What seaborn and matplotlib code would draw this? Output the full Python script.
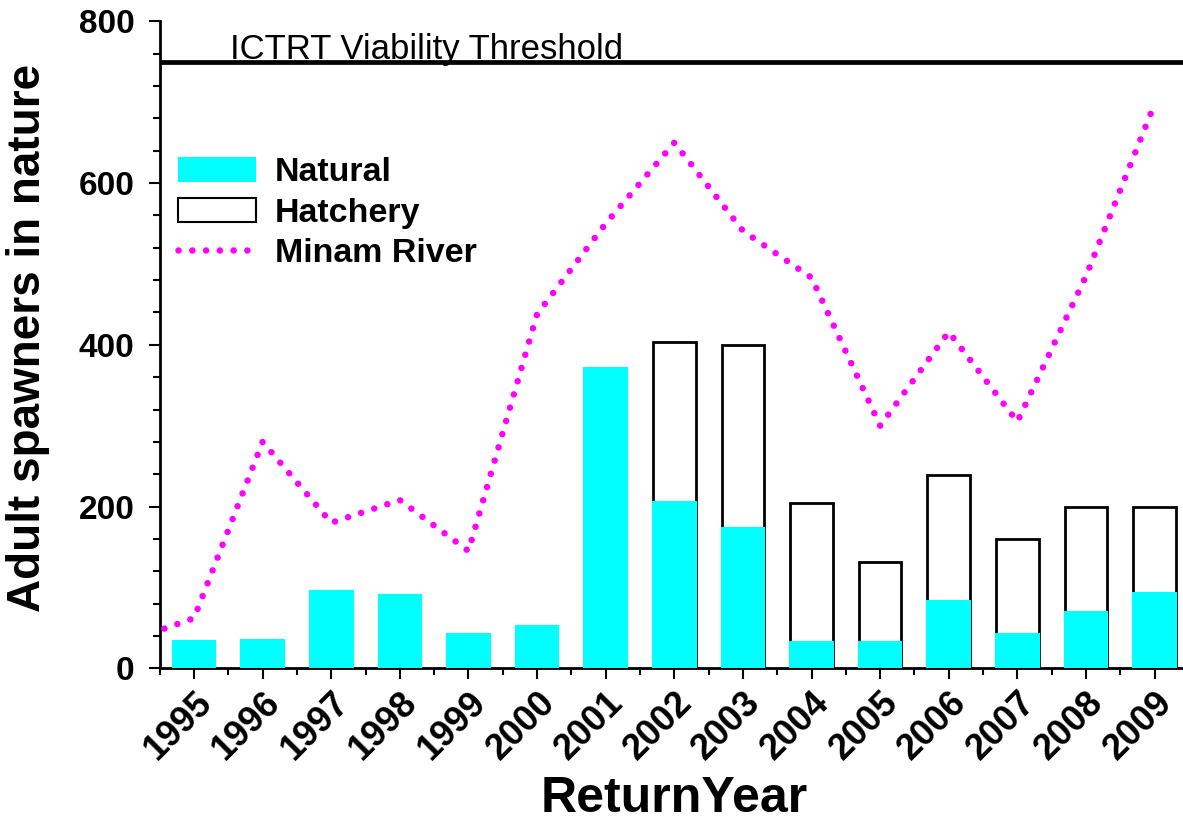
import matplotlib
matplotlib.use('Agg')
import matplotlib.pyplot as plt
import matplotlib.transforms as mtransforms
import seaborn as sns
import pandas as pd
from matplotlib.patches import Patch
from matplotlib.lines import Line2D
from matplotlib.ticker import MultipleLocator

# values
years = [1995, 1996, 1997, 1998, 1999, 2000, 2001, 2002, 2003, 2004, 2005, 2006, 2007, 2008, 2009]
natural = [34, 35, 96, 91, 43, 52, 371, 206, 173, 33, 32, 83, 42, 70, 93]
hatchery_years = [2002, 2003, 2004, 2005, 2006, 2007, 2008, 2009]
hatchery = [197, 227, 171, 99, 156, 118, 129, 106]
minam_years = [1994, 1995, 1996, 1997, 1998, 1999, 2000, 2001, 2002, 2003, 2004, 2005, 2006, 2007, 2008, 2009]
minam = [32, 62, 280, 180, 208, 145, 438, 550, 650, 541, 483, 300, 416, 305, 485, 698]
threshold = 750

sns.set_theme(style='ticks')
plt.rcParams['font.family'] = ['Liberation Sans', 'DejaVu Sans']
plt.rcParams.update({'text.color': 'black', 'axes.labelcolor': 'black',
                     'xtick.color': 'black', 'ytick.color': 'black'})

df = pd.DataFrame({'Year': years, 'Natural': natural})
hat = pd.DataFrame({'Year': hatchery_years, 'Hatchery': hatchery}).merge(df, on='Year')
hat['Total'] = hat['Natural'] + hat['Hatchery']

fig = plt.figure(figsize=(11.83, 8.23), dpi=100)
ax = fig.add_axes([0.135, 0.188, 0.870, 0.786])

# hatchery drawn as full-height box, natural painted over the lower part
sns.barplot(data=hat, x='Year', y='Total', native_scale=True, width=0.62, color='white',
            saturation=1, edgecolor='black', linewidth=2, errorbar=None, ax=ax, zorder=2)
sns.barplot(data=df, x='Year', y='Natural', native_scale=True, width=0.62, color='#00FFFF',
            saturation=1, edgecolor='#00FFFF', linewidth=1.5, errorbar=None, ax=ax, zorder=3)
sns.lineplot(x=minam_years, y=minam, color='#FF00FF', lw=4.7, linestyle=(0, (0.01, 2.1)),
             dash_capstyle='round', legend=False, ax=ax, zorder=4)

ax.axhline(threshold, color='black', lw=3.4, zorder=5)
ax.text(1995.52, threshold + 3, 'ICTRT Viability Threshold', fontsize=25, va='baseline',
        ha='left', color='black', zorder=6)

ax.set_xlim(1994.5, 2009.5)
ax.set_ylim(0, 800)
ax.set_xticks(years)
ax.set_xticklabels([str(y) for y in years], rotation=45, ha='right', va='top',
                   rotation_mode='anchor', fontweight='bold', fontsize=26)
shift = mtransforms.ScaledTranslation(-0.11, 0, fig.dpi_scale_trans)
for lbl in ax.get_xticklabels():
    lbl.set_transform(lbl.get_transform() + shift)
ax.xaxis.set_minor_locator(MultipleLocator(1, offset=0.5))
ax.set_yticks([0, 200, 400, 600, 800])
ax.yaxis.set_minor_locator(MultipleLocator(40))
for lbl in ax.get_yticklabels():
    lbl.set_fontweight('bold')

ax.tick_params(axis='both', which='major', direction='out', length=8, width=1.5, color='black')
ax.tick_params(axis='y', which='major', pad=10, labelsize=24)
ax.tick_params(axis='x', which='major', pad=4, labelsize=26)
ax.tick_params(axis='both', which='minor', direction='out', length=5, width=1.5, color='black')

sns.despine(ax=ax)
for s in ['left', 'bottom']:
    ax.spines[s].set_linewidth(2)
    ax.spines[s].set_color('black')

ax.set_ylabel('Adult spawners in nature', fontsize=33, fontweight='bold')
ax.yaxis.set_label_coords(-0.107, 0.51)
ax.set_xlabel('ReturnYear', fontsize=36, fontweight='bold')
ax.xaxis.set_label_coords(0.5, -0.166)

handles = [Patch(facecolor='#00FFFF', edgecolor='none'),
           Patch(facecolor='white', edgecolor='black', linewidth=1.5),
           Line2D([], [], color='#FF00FF', lw=4.7, linestyle=(0, (0.01, 2.1)), dash_capstyle='round')]
leg = ax.legend(handles, ['Natural', 'Hatchery', 'Minam River'], loc='upper left',
                bbox_to_anchor=(0.018, 0.79), frameon=False, borderpad=0, borderaxespad=0,
                prop={'weight': 'bold', 'size': 24.5}, handlelength=2.3, handleheight=0.72,
                handletextpad=0.55, labelspacing=0.28)
for t in leg.get_texts():
    t.set_color('black')

fig.savefig('out.png', dpi=100)
